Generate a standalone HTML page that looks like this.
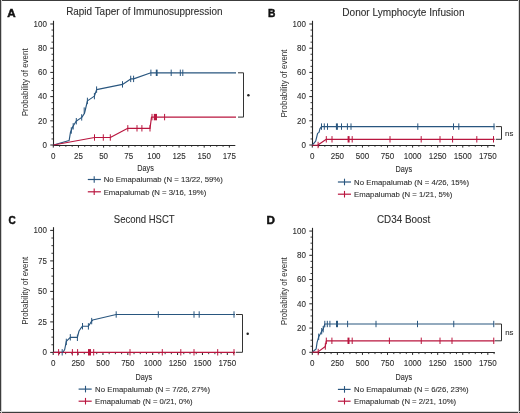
<!DOCTYPE html>
<html><head><meta charset="utf-8"><style>
html,body{margin:0;padding:0;background:#fff;width:520px;height:413px;overflow:hidden;font-family:"Liberation Sans",sans-serif;}
</style></head><body>
<svg width="520" height="413" viewBox="0 0 520 413" style="position:absolute;left:0;top:0;will-change:transform" font-family="Liberation Sans, sans-serif">
<rect x="0" y="0" width="520" height="413" fill="#ffffff"/>
<line x1="53.5" y1="20.8" x2="53.5" y2="146.0" stroke="#262626" stroke-width="1.1"/>
<line x1="53.0" y1="145.5" x2="235.3" y2="145.5" stroke="#262626" stroke-width="1.1"/>
<line x1="53.3" y1="145.0" x2="53.3" y2="147.6" stroke="#262626" stroke-width="1"/>
<line x1="78.44999999999999" y1="145.0" x2="78.44999999999999" y2="147.6" stroke="#262626" stroke-width="1"/>
<line x1="103.6" y1="145.0" x2="103.6" y2="147.6" stroke="#262626" stroke-width="1"/>
<line x1="128.75" y1="145.0" x2="128.75" y2="147.6" stroke="#262626" stroke-width="1"/>
<line x1="153.89999999999998" y1="145.0" x2="153.89999999999998" y2="147.6" stroke="#262626" stroke-width="1"/>
<line x1="179.05" y1="145.0" x2="179.05" y2="147.6" stroke="#262626" stroke-width="1"/>
<line x1="204.2" y1="145.0" x2="204.2" y2="147.6" stroke="#262626" stroke-width="1"/>
<line x1="229.35000000000002" y1="145.0" x2="229.35000000000002" y2="147.6" stroke="#262626" stroke-width="1"/>
<line x1="59.5875" y1="145.0" x2="59.5875" y2="146.8" stroke="#262626" stroke-width="0.9"/>
<line x1="65.875" y1="145.0" x2="65.875" y2="146.8" stroke="#262626" stroke-width="0.9"/>
<line x1="72.1625" y1="145.0" x2="72.1625" y2="146.8" stroke="#262626" stroke-width="0.9"/>
<line x1="84.7375" y1="145.0" x2="84.7375" y2="146.8" stroke="#262626" stroke-width="0.9"/>
<line x1="91.025" y1="145.0" x2="91.025" y2="146.8" stroke="#262626" stroke-width="0.9"/>
<line x1="97.3125" y1="145.0" x2="97.3125" y2="146.8" stroke="#262626" stroke-width="0.9"/>
<line x1="109.88749999999999" y1="145.0" x2="109.88749999999999" y2="146.8" stroke="#262626" stroke-width="0.9"/>
<line x1="116.175" y1="145.0" x2="116.175" y2="146.8" stroke="#262626" stroke-width="0.9"/>
<line x1="122.46249999999999" y1="145.0" x2="122.46249999999999" y2="146.8" stroke="#262626" stroke-width="0.9"/>
<line x1="135.0375" y1="145.0" x2="135.0375" y2="146.8" stroke="#262626" stroke-width="0.9"/>
<line x1="141.325" y1="145.0" x2="141.325" y2="146.8" stroke="#262626" stroke-width="0.9"/>
<line x1="147.6125" y1="145.0" x2="147.6125" y2="146.8" stroke="#262626" stroke-width="0.9"/>
<line x1="160.1875" y1="145.0" x2="160.1875" y2="146.8" stroke="#262626" stroke-width="0.9"/>
<line x1="166.475" y1="145.0" x2="166.475" y2="146.8" stroke="#262626" stroke-width="0.9"/>
<line x1="172.7625" y1="145.0" x2="172.7625" y2="146.8" stroke="#262626" stroke-width="0.9"/>
<line x1="185.33749999999998" y1="145.0" x2="185.33749999999998" y2="146.8" stroke="#262626" stroke-width="0.9"/>
<line x1="191.625" y1="145.0" x2="191.625" y2="146.8" stroke="#262626" stroke-width="0.9"/>
<line x1="197.91250000000002" y1="145.0" x2="197.91250000000002" y2="146.8" stroke="#262626" stroke-width="0.9"/>
<line x1="210.4875" y1="145.0" x2="210.4875" y2="146.8" stroke="#262626" stroke-width="0.9"/>
<line x1="216.77499999999998" y1="145.0" x2="216.77499999999998" y2="146.8" stroke="#262626" stroke-width="0.9"/>
<line x1="223.0625" y1="145.0" x2="223.0625" y2="146.8" stroke="#262626" stroke-width="0.9"/>
<line x1="50.3" y1="145.0" x2="53.3" y2="145.0" stroke="#262626" stroke-width="1"/>
<line x1="50.3" y1="120.8" x2="53.3" y2="120.8" stroke="#262626" stroke-width="1"/>
<line x1="50.3" y1="96.6" x2="53.3" y2="96.6" stroke="#262626" stroke-width="1"/>
<line x1="50.3" y1="72.4" x2="53.3" y2="72.4" stroke="#262626" stroke-width="1"/>
<line x1="50.3" y1="48.2" x2="53.3" y2="48.2" stroke="#262626" stroke-width="1"/>
<line x1="50.3" y1="24.0" x2="53.3" y2="24.0" stroke="#262626" stroke-width="1"/>
<line x1="51.5" y1="138.95" x2="53.3" y2="138.95" stroke="#262626" stroke-width="0.9"/>
<line x1="51.5" y1="132.9" x2="53.3" y2="132.9" stroke="#262626" stroke-width="0.9"/>
<line x1="51.5" y1="126.85" x2="53.3" y2="126.85" stroke="#262626" stroke-width="0.9"/>
<line x1="51.5" y1="114.75" x2="53.3" y2="114.75" stroke="#262626" stroke-width="0.9"/>
<line x1="51.5" y1="108.7" x2="53.3" y2="108.7" stroke="#262626" stroke-width="0.9"/>
<line x1="51.5" y1="102.65" x2="53.3" y2="102.65" stroke="#262626" stroke-width="0.9"/>
<line x1="51.5" y1="90.55000000000001" x2="53.3" y2="90.55000000000001" stroke="#262626" stroke-width="0.9"/>
<line x1="51.5" y1="84.5" x2="53.3" y2="84.5" stroke="#262626" stroke-width="0.9"/>
<line x1="51.5" y1="78.45" x2="53.3" y2="78.45" stroke="#262626" stroke-width="0.9"/>
<line x1="51.5" y1="66.35000000000001" x2="53.3" y2="66.35000000000001" stroke="#262626" stroke-width="0.9"/>
<line x1="51.5" y1="60.3" x2="53.3" y2="60.3" stroke="#262626" stroke-width="0.9"/>
<line x1="51.5" y1="54.25" x2="53.3" y2="54.25" stroke="#262626" stroke-width="0.9"/>
<line x1="51.5" y1="42.150000000000006" x2="53.3" y2="42.150000000000006" stroke="#262626" stroke-width="0.9"/>
<line x1="51.5" y1="36.10000000000001" x2="53.3" y2="36.10000000000001" stroke="#262626" stroke-width="0.9"/>
<line x1="51.5" y1="30.049999999999997" x2="53.3" y2="30.049999999999997" stroke="#262626" stroke-width="0.9"/>
<text x="53.3" y="158.6" font-size="8.9" text-anchor="middle" font-weight="normal" fill="#2e2e2e" stroke="#2e2e2e" stroke-width="0.1" textLength="4.45" lengthAdjust="spacingAndGlyphs" >0</text>
<text x="78.45" y="158.6" font-size="8.9" text-anchor="middle" font-weight="normal" fill="#2e2e2e" stroke="#2e2e2e" stroke-width="0.1" textLength="8.9" lengthAdjust="spacingAndGlyphs" >25</text>
<text x="103.6" y="158.6" font-size="8.9" text-anchor="middle" font-weight="normal" fill="#2e2e2e" stroke="#2e2e2e" stroke-width="0.1" textLength="8.9" lengthAdjust="spacingAndGlyphs" >50</text>
<text x="128.75" y="158.6" font-size="8.9" text-anchor="middle" font-weight="normal" fill="#2e2e2e" stroke="#2e2e2e" stroke-width="0.1" textLength="8.9" lengthAdjust="spacingAndGlyphs" >75</text>
<text x="153.9" y="158.6" font-size="8.9" text-anchor="middle" font-weight="normal" fill="#2e2e2e" stroke="#2e2e2e" stroke-width="0.1" textLength="13.35" lengthAdjust="spacingAndGlyphs" >100</text>
<text x="179.05" y="158.6" font-size="8.9" text-anchor="middle" font-weight="normal" fill="#2e2e2e" stroke="#2e2e2e" stroke-width="0.1" textLength="13.35" lengthAdjust="spacingAndGlyphs" >125</text>
<text x="204.2" y="158.6" font-size="8.9" text-anchor="middle" font-weight="normal" fill="#2e2e2e" stroke="#2e2e2e" stroke-width="0.1" textLength="13.35" lengthAdjust="spacingAndGlyphs" >150</text>
<text x="229.35" y="158.6" font-size="8.9" text-anchor="middle" font-weight="normal" fill="#2e2e2e" stroke="#2e2e2e" stroke-width="0.1" textLength="13.35" lengthAdjust="spacingAndGlyphs" >175</text>
<text x="46.9" y="147.7" font-size="8.9" text-anchor="end" font-weight="normal" fill="#2e2e2e" stroke="#2e2e2e" stroke-width="0.1" textLength="4.45" lengthAdjust="spacingAndGlyphs" >0</text>
<text x="46.9" y="123.5" font-size="8.9" text-anchor="end" font-weight="normal" fill="#2e2e2e" stroke="#2e2e2e" stroke-width="0.1" textLength="8.9" lengthAdjust="spacingAndGlyphs" >20</text>
<text x="46.9" y="99.3" font-size="8.9" text-anchor="end" font-weight="normal" fill="#2e2e2e" stroke="#2e2e2e" stroke-width="0.1" textLength="8.9" lengthAdjust="spacingAndGlyphs" >40</text>
<text x="46.9" y="75.1" font-size="8.9" text-anchor="end" font-weight="normal" fill="#2e2e2e" stroke="#2e2e2e" stroke-width="0.1" textLength="8.9" lengthAdjust="spacingAndGlyphs" >60</text>
<text x="46.9" y="50.9" font-size="8.9" text-anchor="end" font-weight="normal" fill="#2e2e2e" stroke="#2e2e2e" stroke-width="0.1" textLength="8.9" lengthAdjust="spacingAndGlyphs" >80</text>
<text x="46.9" y="26.7" font-size="8.9" text-anchor="end" font-weight="normal" fill="#2e2e2e" stroke="#2e2e2e" stroke-width="0.1" textLength="13.35" lengthAdjust="spacingAndGlyphs" >100</text>
<line x1="312.5" y1="20.8" x2="312.5" y2="146.0" stroke="#262626" stroke-width="1.1"/>
<line x1="312.0" y1="145.5" x2="494.8" y2="145.5" stroke="#262626" stroke-width="1.1"/>
<line x1="312.3" y1="145.0" x2="312.3" y2="147.6" stroke="#262626" stroke-width="1"/>
<line x1="337.375" y1="145.0" x2="337.375" y2="147.6" stroke="#262626" stroke-width="1"/>
<line x1="362.45" y1="145.0" x2="362.45" y2="147.6" stroke="#262626" stroke-width="1"/>
<line x1="387.525" y1="145.0" x2="387.525" y2="147.6" stroke="#262626" stroke-width="1"/>
<line x1="412.6" y1="145.0" x2="412.6" y2="147.6" stroke="#262626" stroke-width="1"/>
<line x1="437.675" y1="145.0" x2="437.675" y2="147.6" stroke="#262626" stroke-width="1"/>
<line x1="462.75" y1="145.0" x2="462.75" y2="147.6" stroke="#262626" stroke-width="1"/>
<line x1="487.82500000000005" y1="145.0" x2="487.82500000000005" y2="147.6" stroke="#262626" stroke-width="1"/>
<line x1="318.56875" y1="145.0" x2="318.56875" y2="146.8" stroke="#262626" stroke-width="0.9"/>
<line x1="324.83750000000003" y1="145.0" x2="324.83750000000003" y2="146.8" stroke="#262626" stroke-width="0.9"/>
<line x1="331.10625" y1="145.0" x2="331.10625" y2="146.8" stroke="#262626" stroke-width="0.9"/>
<line x1="343.64375" y1="145.0" x2="343.64375" y2="146.8" stroke="#262626" stroke-width="0.9"/>
<line x1="349.9125" y1="145.0" x2="349.9125" y2="146.8" stroke="#262626" stroke-width="0.9"/>
<line x1="356.18125000000003" y1="145.0" x2="356.18125000000003" y2="146.8" stroke="#262626" stroke-width="0.9"/>
<line x1="368.71875" y1="145.0" x2="368.71875" y2="146.8" stroke="#262626" stroke-width="0.9"/>
<line x1="374.9875" y1="145.0" x2="374.9875" y2="146.8" stroke="#262626" stroke-width="0.9"/>
<line x1="381.25625" y1="145.0" x2="381.25625" y2="146.8" stroke="#262626" stroke-width="0.9"/>
<line x1="393.79375000000005" y1="145.0" x2="393.79375000000005" y2="146.8" stroke="#262626" stroke-width="0.9"/>
<line x1="400.0625" y1="145.0" x2="400.0625" y2="146.8" stroke="#262626" stroke-width="0.9"/>
<line x1="406.33125" y1="145.0" x2="406.33125" y2="146.8" stroke="#262626" stroke-width="0.9"/>
<line x1="418.86875" y1="145.0" x2="418.86875" y2="146.8" stroke="#262626" stroke-width="0.9"/>
<line x1="425.13750000000005" y1="145.0" x2="425.13750000000005" y2="146.8" stroke="#262626" stroke-width="0.9"/>
<line x1="431.40625" y1="145.0" x2="431.40625" y2="146.8" stroke="#262626" stroke-width="0.9"/>
<line x1="443.94375" y1="145.0" x2="443.94375" y2="146.8" stroke="#262626" stroke-width="0.9"/>
<line x1="450.2125" y1="145.0" x2="450.2125" y2="146.8" stroke="#262626" stroke-width="0.9"/>
<line x1="456.48125000000005" y1="145.0" x2="456.48125000000005" y2="146.8" stroke="#262626" stroke-width="0.9"/>
<line x1="469.01875" y1="145.0" x2="469.01875" y2="146.8" stroke="#262626" stroke-width="0.9"/>
<line x1="475.2875" y1="145.0" x2="475.2875" y2="146.8" stroke="#262626" stroke-width="0.9"/>
<line x1="481.55625" y1="145.0" x2="481.55625" y2="146.8" stroke="#262626" stroke-width="0.9"/>
<line x1="494.09375" y1="145.0" x2="494.09375" y2="146.8" stroke="#262626" stroke-width="0.9"/>
<line x1="309.3" y1="145.0" x2="312.3" y2="145.0" stroke="#262626" stroke-width="1"/>
<line x1="309.3" y1="120.8" x2="312.3" y2="120.8" stroke="#262626" stroke-width="1"/>
<line x1="309.3" y1="96.6" x2="312.3" y2="96.6" stroke="#262626" stroke-width="1"/>
<line x1="309.3" y1="72.4" x2="312.3" y2="72.4" stroke="#262626" stroke-width="1"/>
<line x1="309.3" y1="48.2" x2="312.3" y2="48.2" stroke="#262626" stroke-width="1"/>
<line x1="309.3" y1="24.0" x2="312.3" y2="24.0" stroke="#262626" stroke-width="1"/>
<line x1="310.5" y1="138.95" x2="312.3" y2="138.95" stroke="#262626" stroke-width="0.9"/>
<line x1="310.5" y1="132.9" x2="312.3" y2="132.9" stroke="#262626" stroke-width="0.9"/>
<line x1="310.5" y1="126.85" x2="312.3" y2="126.85" stroke="#262626" stroke-width="0.9"/>
<line x1="310.5" y1="114.75" x2="312.3" y2="114.75" stroke="#262626" stroke-width="0.9"/>
<line x1="310.5" y1="108.7" x2="312.3" y2="108.7" stroke="#262626" stroke-width="0.9"/>
<line x1="310.5" y1="102.65" x2="312.3" y2="102.65" stroke="#262626" stroke-width="0.9"/>
<line x1="310.5" y1="90.55000000000001" x2="312.3" y2="90.55000000000001" stroke="#262626" stroke-width="0.9"/>
<line x1="310.5" y1="84.5" x2="312.3" y2="84.5" stroke="#262626" stroke-width="0.9"/>
<line x1="310.5" y1="78.45" x2="312.3" y2="78.45" stroke="#262626" stroke-width="0.9"/>
<line x1="310.5" y1="66.35000000000001" x2="312.3" y2="66.35000000000001" stroke="#262626" stroke-width="0.9"/>
<line x1="310.5" y1="60.3" x2="312.3" y2="60.3" stroke="#262626" stroke-width="0.9"/>
<line x1="310.5" y1="54.25" x2="312.3" y2="54.25" stroke="#262626" stroke-width="0.9"/>
<line x1="310.5" y1="42.150000000000006" x2="312.3" y2="42.150000000000006" stroke="#262626" stroke-width="0.9"/>
<line x1="310.5" y1="36.10000000000001" x2="312.3" y2="36.10000000000001" stroke="#262626" stroke-width="0.9"/>
<line x1="310.5" y1="30.049999999999997" x2="312.3" y2="30.049999999999997" stroke="#262626" stroke-width="0.9"/>
<text x="312.3" y="158.6" font-size="8.9" text-anchor="middle" font-weight="normal" fill="#2e2e2e" stroke="#2e2e2e" stroke-width="0.1" textLength="4.45" lengthAdjust="spacingAndGlyphs" >0</text>
<text x="337.38" y="158.6" font-size="8.9" text-anchor="middle" font-weight="normal" fill="#2e2e2e" stroke="#2e2e2e" stroke-width="0.1" textLength="13.35" lengthAdjust="spacingAndGlyphs" >250</text>
<text x="362.45" y="158.6" font-size="8.9" text-anchor="middle" font-weight="normal" fill="#2e2e2e" stroke="#2e2e2e" stroke-width="0.1" textLength="13.35" lengthAdjust="spacingAndGlyphs" >500</text>
<text x="387.52" y="158.6" font-size="8.9" text-anchor="middle" font-weight="normal" fill="#2e2e2e" stroke="#2e2e2e" stroke-width="0.1" textLength="13.35" lengthAdjust="spacingAndGlyphs" >750</text>
<text x="412.6" y="158.6" font-size="8.9" text-anchor="middle" font-weight="normal" fill="#2e2e2e" stroke="#2e2e2e" stroke-width="0.1" textLength="17.8" lengthAdjust="spacingAndGlyphs" >1000</text>
<text x="437.68" y="158.6" font-size="8.9" text-anchor="middle" font-weight="normal" fill="#2e2e2e" stroke="#2e2e2e" stroke-width="0.1" textLength="17.8" lengthAdjust="spacingAndGlyphs" >1250</text>
<text x="462.75" y="158.6" font-size="8.9" text-anchor="middle" font-weight="normal" fill="#2e2e2e" stroke="#2e2e2e" stroke-width="0.1" textLength="17.8" lengthAdjust="spacingAndGlyphs" >1500</text>
<text x="487.83" y="158.6" font-size="8.9" text-anchor="middle" font-weight="normal" fill="#2e2e2e" stroke="#2e2e2e" stroke-width="0.1" textLength="17.8" lengthAdjust="spacingAndGlyphs" >1750</text>
<text x="305.9" y="147.7" font-size="8.9" text-anchor="end" font-weight="normal" fill="#2e2e2e" stroke="#2e2e2e" stroke-width="0.1" textLength="4.45" lengthAdjust="spacingAndGlyphs" >0</text>
<text x="305.9" y="123.5" font-size="8.9" text-anchor="end" font-weight="normal" fill="#2e2e2e" stroke="#2e2e2e" stroke-width="0.1" textLength="8.9" lengthAdjust="spacingAndGlyphs" >20</text>
<text x="305.9" y="99.3" font-size="8.9" text-anchor="end" font-weight="normal" fill="#2e2e2e" stroke="#2e2e2e" stroke-width="0.1" textLength="8.9" lengthAdjust="spacingAndGlyphs" >40</text>
<text x="305.9" y="75.1" font-size="8.9" text-anchor="end" font-weight="normal" fill="#2e2e2e" stroke="#2e2e2e" stroke-width="0.1" textLength="8.9" lengthAdjust="spacingAndGlyphs" >60</text>
<text x="305.9" y="50.9" font-size="8.9" text-anchor="end" font-weight="normal" fill="#2e2e2e" stroke="#2e2e2e" stroke-width="0.1" textLength="8.9" lengthAdjust="spacingAndGlyphs" >80</text>
<text x="305.9" y="26.7" font-size="8.9" text-anchor="end" font-weight="normal" fill="#2e2e2e" stroke="#2e2e2e" stroke-width="0.1" textLength="13.35" lengthAdjust="spacingAndGlyphs" >100</text>
<line x1="53.5" y1="227.2" x2="53.5" y2="353.0" stroke="#262626" stroke-width="1.1"/>
<line x1="53.0" y1="352.5" x2="235.2" y2="352.5" stroke="#262626" stroke-width="1.1"/>
<line x1="53.2" y1="352.4" x2="53.2" y2="355.0" stroke="#262626" stroke-width="1"/>
<line x1="78.075" y1="352.4" x2="78.075" y2="355.0" stroke="#262626" stroke-width="1"/>
<line x1="102.95" y1="352.4" x2="102.95" y2="355.0" stroke="#262626" stroke-width="1"/>
<line x1="127.825" y1="352.4" x2="127.825" y2="355.0" stroke="#262626" stroke-width="1"/>
<line x1="152.7" y1="352.4" x2="152.7" y2="355.0" stroke="#262626" stroke-width="1"/>
<line x1="177.575" y1="352.4" x2="177.575" y2="355.0" stroke="#262626" stroke-width="1"/>
<line x1="202.45" y1="352.4" x2="202.45" y2="355.0" stroke="#262626" stroke-width="1"/>
<line x1="227.325" y1="352.4" x2="227.325" y2="355.0" stroke="#262626" stroke-width="1"/>
<line x1="59.41875" y1="352.4" x2="59.41875" y2="354.2" stroke="#262626" stroke-width="0.9"/>
<line x1="65.6375" y1="352.4" x2="65.6375" y2="354.2" stroke="#262626" stroke-width="0.9"/>
<line x1="71.85625" y1="352.4" x2="71.85625" y2="354.2" stroke="#262626" stroke-width="0.9"/>
<line x1="84.29375" y1="352.4" x2="84.29375" y2="354.2" stroke="#262626" stroke-width="0.9"/>
<line x1="90.5125" y1="352.4" x2="90.5125" y2="354.2" stroke="#262626" stroke-width="0.9"/>
<line x1="96.73125" y1="352.4" x2="96.73125" y2="354.2" stroke="#262626" stroke-width="0.9"/>
<line x1="109.16875" y1="352.4" x2="109.16875" y2="354.2" stroke="#262626" stroke-width="0.9"/>
<line x1="115.3875" y1="352.4" x2="115.3875" y2="354.2" stroke="#262626" stroke-width="0.9"/>
<line x1="121.60625" y1="352.4" x2="121.60625" y2="354.2" stroke="#262626" stroke-width="0.9"/>
<line x1="134.04375" y1="352.4" x2="134.04375" y2="354.2" stroke="#262626" stroke-width="0.9"/>
<line x1="140.2625" y1="352.4" x2="140.2625" y2="354.2" stroke="#262626" stroke-width="0.9"/>
<line x1="146.48125" y1="352.4" x2="146.48125" y2="354.2" stroke="#262626" stroke-width="0.9"/>
<line x1="158.91875" y1="352.4" x2="158.91875" y2="354.2" stroke="#262626" stroke-width="0.9"/>
<line x1="165.1375" y1="352.4" x2="165.1375" y2="354.2" stroke="#262626" stroke-width="0.9"/>
<line x1="171.35625" y1="352.4" x2="171.35625" y2="354.2" stroke="#262626" stroke-width="0.9"/>
<line x1="183.79375" y1="352.4" x2="183.79375" y2="354.2" stroke="#262626" stroke-width="0.9"/>
<line x1="190.0125" y1="352.4" x2="190.0125" y2="354.2" stroke="#262626" stroke-width="0.9"/>
<line x1="196.23125" y1="352.4" x2="196.23125" y2="354.2" stroke="#262626" stroke-width="0.9"/>
<line x1="208.66875" y1="352.4" x2="208.66875" y2="354.2" stroke="#262626" stroke-width="0.9"/>
<line x1="214.8875" y1="352.4" x2="214.8875" y2="354.2" stroke="#262626" stroke-width="0.9"/>
<line x1="221.10625" y1="352.4" x2="221.10625" y2="354.2" stroke="#262626" stroke-width="0.9"/>
<line x1="233.54375" y1="352.4" x2="233.54375" y2="354.2" stroke="#262626" stroke-width="0.9"/>
<line x1="50.2" y1="352.4" x2="53.2" y2="352.4" stroke="#262626" stroke-width="1"/>
<line x1="50.2" y1="321.9" x2="53.2" y2="321.9" stroke="#262626" stroke-width="1"/>
<line x1="50.2" y1="291.4" x2="53.2" y2="291.4" stroke="#262626" stroke-width="1"/>
<line x1="50.2" y1="260.9" x2="53.2" y2="260.9" stroke="#262626" stroke-width="1"/>
<line x1="50.2" y1="230.39999999999998" x2="53.2" y2="230.39999999999998" stroke="#262626" stroke-width="1"/>
<line x1="51.400000000000006" y1="344.775" x2="53.2" y2="344.775" stroke="#262626" stroke-width="0.9"/>
<line x1="51.400000000000006" y1="337.15" x2="53.2" y2="337.15" stroke="#262626" stroke-width="0.9"/>
<line x1="51.400000000000006" y1="329.525" x2="53.2" y2="329.525" stroke="#262626" stroke-width="0.9"/>
<line x1="51.400000000000006" y1="314.275" x2="53.2" y2="314.275" stroke="#262626" stroke-width="0.9"/>
<line x1="51.400000000000006" y1="306.65" x2="53.2" y2="306.65" stroke="#262626" stroke-width="0.9"/>
<line x1="51.400000000000006" y1="299.025" x2="53.2" y2="299.025" stroke="#262626" stroke-width="0.9"/>
<line x1="51.400000000000006" y1="283.775" x2="53.2" y2="283.775" stroke="#262626" stroke-width="0.9"/>
<line x1="51.400000000000006" y1="276.15" x2="53.2" y2="276.15" stroke="#262626" stroke-width="0.9"/>
<line x1="51.400000000000006" y1="268.525" x2="53.2" y2="268.525" stroke="#262626" stroke-width="0.9"/>
<line x1="51.400000000000006" y1="253.27499999999998" x2="53.2" y2="253.27499999999998" stroke="#262626" stroke-width="0.9"/>
<line x1="51.400000000000006" y1="245.64999999999998" x2="53.2" y2="245.64999999999998" stroke="#262626" stroke-width="0.9"/>
<line x1="51.400000000000006" y1="238.02499999999998" x2="53.2" y2="238.02499999999998" stroke="#262626" stroke-width="0.9"/>
<text x="53.2" y="365.5" font-size="8.9" text-anchor="middle" font-weight="normal" fill="#2e2e2e" stroke="#2e2e2e" stroke-width="0.1" textLength="4.45" lengthAdjust="spacingAndGlyphs" >0</text>
<text x="78.08" y="365.5" font-size="8.9" text-anchor="middle" font-weight="normal" fill="#2e2e2e" stroke="#2e2e2e" stroke-width="0.1" textLength="13.35" lengthAdjust="spacingAndGlyphs" >250</text>
<text x="102.95" y="365.5" font-size="8.9" text-anchor="middle" font-weight="normal" fill="#2e2e2e" stroke="#2e2e2e" stroke-width="0.1" textLength="13.35" lengthAdjust="spacingAndGlyphs" >500</text>
<text x="127.83" y="365.5" font-size="8.9" text-anchor="middle" font-weight="normal" fill="#2e2e2e" stroke="#2e2e2e" stroke-width="0.1" textLength="13.35" lengthAdjust="spacingAndGlyphs" >750</text>
<text x="152.7" y="365.5" font-size="8.9" text-anchor="middle" font-weight="normal" fill="#2e2e2e" stroke="#2e2e2e" stroke-width="0.1" textLength="17.8" lengthAdjust="spacingAndGlyphs" >1000</text>
<text x="177.57" y="365.5" font-size="8.9" text-anchor="middle" font-weight="normal" fill="#2e2e2e" stroke="#2e2e2e" stroke-width="0.1" textLength="17.8" lengthAdjust="spacingAndGlyphs" >1250</text>
<text x="202.45" y="365.5" font-size="8.9" text-anchor="middle" font-weight="normal" fill="#2e2e2e" stroke="#2e2e2e" stroke-width="0.1" textLength="17.8" lengthAdjust="spacingAndGlyphs" >1500</text>
<text x="227.32" y="365.5" font-size="8.9" text-anchor="middle" font-weight="normal" fill="#2e2e2e" stroke="#2e2e2e" stroke-width="0.1" textLength="17.8" lengthAdjust="spacingAndGlyphs" >1750</text>
<text x="46.9" y="355.1" font-size="8.9" text-anchor="end" font-weight="normal" fill="#2e2e2e" stroke="#2e2e2e" stroke-width="0.1" textLength="4.45" lengthAdjust="spacingAndGlyphs" >0</text>
<text x="46.9" y="324.6" font-size="8.9" text-anchor="end" font-weight="normal" fill="#2e2e2e" stroke="#2e2e2e" stroke-width="0.1" textLength="8.9" lengthAdjust="spacingAndGlyphs" >25</text>
<text x="46.9" y="294.1" font-size="8.9" text-anchor="end" font-weight="normal" fill="#2e2e2e" stroke="#2e2e2e" stroke-width="0.1" textLength="8.9" lengthAdjust="spacingAndGlyphs" >50</text>
<text x="46.9" y="263.6" font-size="8.9" text-anchor="end" font-weight="normal" fill="#2e2e2e" stroke="#2e2e2e" stroke-width="0.1" textLength="8.9" lengthAdjust="spacingAndGlyphs" >75</text>
<text x="46.9" y="233.1" font-size="8.9" text-anchor="end" font-weight="normal" fill="#2e2e2e" stroke="#2e2e2e" stroke-width="0.1" textLength="13.35" lengthAdjust="spacingAndGlyphs" >100</text>
<line x1="312.5" y1="227.85000000000002" x2="312.5" y2="353.0" stroke="#262626" stroke-width="1.1"/>
<line x1="312.0" y1="352.5" x2="494.8" y2="352.5" stroke="#262626" stroke-width="1.1"/>
<line x1="312.3" y1="352.3" x2="312.3" y2="354.90000000000003" stroke="#262626" stroke-width="1"/>
<line x1="337.375" y1="352.3" x2="337.375" y2="354.90000000000003" stroke="#262626" stroke-width="1"/>
<line x1="362.45" y1="352.3" x2="362.45" y2="354.90000000000003" stroke="#262626" stroke-width="1"/>
<line x1="387.525" y1="352.3" x2="387.525" y2="354.90000000000003" stroke="#262626" stroke-width="1"/>
<line x1="412.6" y1="352.3" x2="412.6" y2="354.90000000000003" stroke="#262626" stroke-width="1"/>
<line x1="437.675" y1="352.3" x2="437.675" y2="354.90000000000003" stroke="#262626" stroke-width="1"/>
<line x1="462.75" y1="352.3" x2="462.75" y2="354.90000000000003" stroke="#262626" stroke-width="1"/>
<line x1="487.82500000000005" y1="352.3" x2="487.82500000000005" y2="354.90000000000003" stroke="#262626" stroke-width="1"/>
<line x1="318.56875" y1="352.3" x2="318.56875" y2="354.1" stroke="#262626" stroke-width="0.9"/>
<line x1="324.83750000000003" y1="352.3" x2="324.83750000000003" y2="354.1" stroke="#262626" stroke-width="0.9"/>
<line x1="331.10625" y1="352.3" x2="331.10625" y2="354.1" stroke="#262626" stroke-width="0.9"/>
<line x1="343.64375" y1="352.3" x2="343.64375" y2="354.1" stroke="#262626" stroke-width="0.9"/>
<line x1="349.9125" y1="352.3" x2="349.9125" y2="354.1" stroke="#262626" stroke-width="0.9"/>
<line x1="356.18125000000003" y1="352.3" x2="356.18125000000003" y2="354.1" stroke="#262626" stroke-width="0.9"/>
<line x1="368.71875" y1="352.3" x2="368.71875" y2="354.1" stroke="#262626" stroke-width="0.9"/>
<line x1="374.9875" y1="352.3" x2="374.9875" y2="354.1" stroke="#262626" stroke-width="0.9"/>
<line x1="381.25625" y1="352.3" x2="381.25625" y2="354.1" stroke="#262626" stroke-width="0.9"/>
<line x1="393.79375000000005" y1="352.3" x2="393.79375000000005" y2="354.1" stroke="#262626" stroke-width="0.9"/>
<line x1="400.0625" y1="352.3" x2="400.0625" y2="354.1" stroke="#262626" stroke-width="0.9"/>
<line x1="406.33125" y1="352.3" x2="406.33125" y2="354.1" stroke="#262626" stroke-width="0.9"/>
<line x1="418.86875" y1="352.3" x2="418.86875" y2="354.1" stroke="#262626" stroke-width="0.9"/>
<line x1="425.13750000000005" y1="352.3" x2="425.13750000000005" y2="354.1" stroke="#262626" stroke-width="0.9"/>
<line x1="431.40625" y1="352.3" x2="431.40625" y2="354.1" stroke="#262626" stroke-width="0.9"/>
<line x1="443.94375" y1="352.3" x2="443.94375" y2="354.1" stroke="#262626" stroke-width="0.9"/>
<line x1="450.2125" y1="352.3" x2="450.2125" y2="354.1" stroke="#262626" stroke-width="0.9"/>
<line x1="456.48125000000005" y1="352.3" x2="456.48125000000005" y2="354.1" stroke="#262626" stroke-width="0.9"/>
<line x1="469.01875" y1="352.3" x2="469.01875" y2="354.1" stroke="#262626" stroke-width="0.9"/>
<line x1="475.2875" y1="352.3" x2="475.2875" y2="354.1" stroke="#262626" stroke-width="0.9"/>
<line x1="481.55625" y1="352.3" x2="481.55625" y2="354.1" stroke="#262626" stroke-width="0.9"/>
<line x1="494.09375" y1="352.3" x2="494.09375" y2="354.1" stroke="#262626" stroke-width="0.9"/>
<line x1="309.3" y1="352.3" x2="312.3" y2="352.3" stroke="#262626" stroke-width="1"/>
<line x1="309.3" y1="328.05" x2="312.3" y2="328.05" stroke="#262626" stroke-width="1"/>
<line x1="309.3" y1="303.8" x2="312.3" y2="303.8" stroke="#262626" stroke-width="1"/>
<line x1="309.3" y1="279.55" x2="312.3" y2="279.55" stroke="#262626" stroke-width="1"/>
<line x1="309.3" y1="255.3" x2="312.3" y2="255.3" stroke="#262626" stroke-width="1"/>
<line x1="309.3" y1="231.05" x2="312.3" y2="231.05" stroke="#262626" stroke-width="1"/>
<line x1="310.5" y1="346.2375" x2="312.3" y2="346.2375" stroke="#262626" stroke-width="0.9"/>
<line x1="310.5" y1="340.175" x2="312.3" y2="340.175" stroke="#262626" stroke-width="0.9"/>
<line x1="310.5" y1="334.1125" x2="312.3" y2="334.1125" stroke="#262626" stroke-width="0.9"/>
<line x1="310.5" y1="321.9875" x2="312.3" y2="321.9875" stroke="#262626" stroke-width="0.9"/>
<line x1="310.5" y1="315.925" x2="312.3" y2="315.925" stroke="#262626" stroke-width="0.9"/>
<line x1="310.5" y1="309.8625" x2="312.3" y2="309.8625" stroke="#262626" stroke-width="0.9"/>
<line x1="310.5" y1="297.7375" x2="312.3" y2="297.7375" stroke="#262626" stroke-width="0.9"/>
<line x1="310.5" y1="291.675" x2="312.3" y2="291.675" stroke="#262626" stroke-width="0.9"/>
<line x1="310.5" y1="285.6125" x2="312.3" y2="285.6125" stroke="#262626" stroke-width="0.9"/>
<line x1="310.5" y1="273.4875" x2="312.3" y2="273.4875" stroke="#262626" stroke-width="0.9"/>
<line x1="310.5" y1="267.425" x2="312.3" y2="267.425" stroke="#262626" stroke-width="0.9"/>
<line x1="310.5" y1="261.3625" x2="312.3" y2="261.3625" stroke="#262626" stroke-width="0.9"/>
<line x1="310.5" y1="249.2375" x2="312.3" y2="249.2375" stroke="#262626" stroke-width="0.9"/>
<line x1="310.5" y1="243.175" x2="312.3" y2="243.175" stroke="#262626" stroke-width="0.9"/>
<line x1="310.5" y1="237.1125" x2="312.3" y2="237.1125" stroke="#262626" stroke-width="0.9"/>
<text x="312.3" y="365.5" font-size="8.9" text-anchor="middle" font-weight="normal" fill="#2e2e2e" stroke="#2e2e2e" stroke-width="0.1" textLength="4.45" lengthAdjust="spacingAndGlyphs" >0</text>
<text x="337.38" y="365.5" font-size="8.9" text-anchor="middle" font-weight="normal" fill="#2e2e2e" stroke="#2e2e2e" stroke-width="0.1" textLength="13.35" lengthAdjust="spacingAndGlyphs" >250</text>
<text x="362.45" y="365.5" font-size="8.9" text-anchor="middle" font-weight="normal" fill="#2e2e2e" stroke="#2e2e2e" stroke-width="0.1" textLength="13.35" lengthAdjust="spacingAndGlyphs" >500</text>
<text x="387.52" y="365.5" font-size="8.9" text-anchor="middle" font-weight="normal" fill="#2e2e2e" stroke="#2e2e2e" stroke-width="0.1" textLength="13.35" lengthAdjust="spacingAndGlyphs" >750</text>
<text x="412.6" y="365.5" font-size="8.9" text-anchor="middle" font-weight="normal" fill="#2e2e2e" stroke="#2e2e2e" stroke-width="0.1" textLength="17.8" lengthAdjust="spacingAndGlyphs" >1000</text>
<text x="437.68" y="365.5" font-size="8.9" text-anchor="middle" font-weight="normal" fill="#2e2e2e" stroke="#2e2e2e" stroke-width="0.1" textLength="17.8" lengthAdjust="spacingAndGlyphs" >1250</text>
<text x="462.75" y="365.5" font-size="8.9" text-anchor="middle" font-weight="normal" fill="#2e2e2e" stroke="#2e2e2e" stroke-width="0.1" textLength="17.8" lengthAdjust="spacingAndGlyphs" >1500</text>
<text x="487.83" y="365.5" font-size="8.9" text-anchor="middle" font-weight="normal" fill="#2e2e2e" stroke="#2e2e2e" stroke-width="0.1" textLength="17.8" lengthAdjust="spacingAndGlyphs" >1750</text>
<text x="305.9" y="355.0" font-size="8.9" text-anchor="end" font-weight="normal" fill="#2e2e2e" stroke="#2e2e2e" stroke-width="0.1" textLength="4.45" lengthAdjust="spacingAndGlyphs" >0</text>
<text x="305.9" y="330.75" font-size="8.9" text-anchor="end" font-weight="normal" fill="#2e2e2e" stroke="#2e2e2e" stroke-width="0.1" textLength="8.9" lengthAdjust="spacingAndGlyphs" >20</text>
<text x="305.9" y="306.5" font-size="8.9" text-anchor="end" font-weight="normal" fill="#2e2e2e" stroke="#2e2e2e" stroke-width="0.1" textLength="8.9" lengthAdjust="spacingAndGlyphs" >40</text>
<text x="305.9" y="282.25" font-size="8.9" text-anchor="end" font-weight="normal" fill="#2e2e2e" stroke="#2e2e2e" stroke-width="0.1" textLength="8.9" lengthAdjust="spacingAndGlyphs" >60</text>
<text x="305.9" y="258.0" font-size="8.9" text-anchor="end" font-weight="normal" fill="#2e2e2e" stroke="#2e2e2e" stroke-width="0.1" textLength="8.9" lengthAdjust="spacingAndGlyphs" >80</text>
<text x="305.9" y="233.75" font-size="8.9" text-anchor="end" font-weight="normal" fill="#2e2e2e" stroke="#2e2e2e" stroke-width="0.1" textLength="13.35" lengthAdjust="spacingAndGlyphs" >100</text>
<text x="7.2" y="17.0" font-size="11.8" text-anchor="start" font-weight="bold" fill="#111" stroke="#111" stroke-width="0.5" textLength="8.4" lengthAdjust="spacingAndGlyphs" >A</text>
<text x="268.0" y="16.8" font-size="11.8" text-anchor="start" font-weight="bold" fill="#111" stroke="#111" stroke-width="0.5" textLength="7.4" lengthAdjust="spacingAndGlyphs" >B</text>
<text x="8.6" y="223.8" font-size="11.8" text-anchor="start" font-weight="bold" fill="#111" stroke="#111" stroke-width="0.5" textLength="7.2" lengthAdjust="spacingAndGlyphs" >C</text>
<text x="266.4" y="223.8" font-size="11.8" text-anchor="start" font-weight="bold" fill="#111" stroke="#111" stroke-width="0.5" textLength="8.4" lengthAdjust="spacingAndGlyphs" >D</text>
<text x="66.2" y="15.4" font-size="10.5" text-anchor="start" font-weight="normal" fill="#2e2e2e" stroke="#2e2e2e" stroke-width="0.1" textLength="156.3" lengthAdjust="spacingAndGlyphs" >Rapid Taper of Immunosuppression</text>
<text x="342.3" y="15.5" font-size="10.5" text-anchor="start" font-weight="normal" fill="#2e2e2e" stroke="#2e2e2e" stroke-width="0.1" textLength="122.2" lengthAdjust="spacingAndGlyphs" >Donor Lymphocyte Infusion</text>
<text x="113.8" y="223.2" font-size="10.5" text-anchor="start" font-weight="normal" fill="#2e2e2e" stroke="#2e2e2e" stroke-width="0.1" textLength="60.8" lengthAdjust="spacingAndGlyphs" >Second HSCT</text>
<text x="377.0" y="223.2" font-size="10.5" text-anchor="start" font-weight="normal" fill="#2e2e2e" stroke="#2e2e2e" stroke-width="0.1" textLength="53.2" lengthAdjust="spacingAndGlyphs" >CD34 Boost</text>
<text x="145.6" y="170.7" font-size="9.3" text-anchor="middle" font-weight="normal" fill="#2e2e2e" stroke="#2e2e2e" stroke-width="0.1" textLength="16.6" lengthAdjust="spacingAndGlyphs" >Days</text>
<text x="403.8" y="171.5" font-size="9.3" text-anchor="middle" font-weight="normal" fill="#2e2e2e" stroke="#2e2e2e" stroke-width="0.1" textLength="16.6" lengthAdjust="spacingAndGlyphs" >Days</text>
<text x="143.8" y="379.5" font-size="9.3" text-anchor="middle" font-weight="normal" fill="#2e2e2e" stroke="#2e2e2e" stroke-width="0.1" textLength="16.6" lengthAdjust="spacingAndGlyphs" >Days</text>
<text x="403.8" y="379.5" font-size="9.3" text-anchor="middle" font-weight="normal" fill="#2e2e2e" stroke="#2e2e2e" stroke-width="0.1" textLength="16.6" lengthAdjust="spacingAndGlyphs" >Days</text>
<text x="0" y="0" font-size="9" text-anchor="middle" fill="#2e2e2e" textLength="68" lengthAdjust="spacingAndGlyphs" transform="translate(27.9,82.3) rotate(-90)">Probability of event</text>
<text x="0" y="0" font-size="9" text-anchor="middle" fill="#2e2e2e" textLength="68" lengthAdjust="spacingAndGlyphs" transform="translate(286.9,83.5) rotate(-90)">Probability of event</text>
<text x="0" y="0" font-size="9" text-anchor="middle" fill="#2e2e2e" textLength="68" lengthAdjust="spacingAndGlyphs" transform="translate(27.9,290.8) rotate(-90)">Probability of event</text>
<text x="0" y="0" font-size="9" text-anchor="middle" fill="#2e2e2e" textLength="68" lengthAdjust="spacingAndGlyphs" transform="translate(286.9,291.2) rotate(-90)">Probability of event</text>
<line x1="87.8" y1="179.5" x2="100.9" y2="179.5" stroke="#29567f" stroke-width="1.2"/>
<line x1="94.2" y1="176.2" x2="94.2" y2="182.8" stroke="#29567f" stroke-width="1.1"/>
<text x="103.7" y="182.4" font-size="7.7" text-anchor="start" font-weight="normal" fill="#2e2e2e" stroke="#2e2e2e" stroke-width="0.1" textLength="119.2" lengthAdjust="spacingAndGlyphs" >No Emapalumab (N = 13/22, 59%)</text>
<line x1="87.8" y1="191.8" x2="100.9" y2="191.8" stroke="#b9163f" stroke-width="1.2"/>
<line x1="94.2" y1="188.5" x2="94.2" y2="195.10000000000002" stroke="#b9163f" stroke-width="1.1"/>
<text x="103.7" y="194.7" font-size="7.7" text-anchor="start" font-weight="normal" fill="#2e2e2e" stroke="#2e2e2e" stroke-width="0.1" textLength="102.6" lengthAdjust="spacingAndGlyphs" >Emapalumab (N = 3/16, 19%)</text>
<line x1="337.9" y1="182.0" x2="351.0" y2="182.0" stroke="#29567f" stroke-width="1.2"/>
<line x1="344.5" y1="178.7" x2="344.5" y2="185.3" stroke="#29567f" stroke-width="1.1"/>
<text x="354.1" y="184.9" font-size="7.7" text-anchor="start" font-weight="normal" fill="#2e2e2e" stroke="#2e2e2e" stroke-width="0.1" textLength="115.0" lengthAdjust="spacingAndGlyphs" >No Emapalumab (N = 4/26, 15%)</text>
<line x1="337.9" y1="194.2" x2="351.0" y2="194.2" stroke="#b9163f" stroke-width="1.2"/>
<line x1="344.5" y1="190.89999999999998" x2="344.5" y2="197.5" stroke="#b9163f" stroke-width="1.1"/>
<text x="354.1" y="197.1" font-size="7.7" text-anchor="start" font-weight="normal" fill="#2e2e2e" stroke="#2e2e2e" stroke-width="0.1" textLength="98.2" lengthAdjust="spacingAndGlyphs" >Emapalumab (N = 1/21, 5%)</text>
<line x1="78.6" y1="389.1" x2="91.7" y2="389.1" stroke="#29567f" stroke-width="1.2"/>
<line x1="85.5" y1="385.8" x2="85.5" y2="392.40000000000003" stroke="#29567f" stroke-width="1.1"/>
<text x="95.1" y="392.0" font-size="7.7" text-anchor="start" font-weight="normal" fill="#2e2e2e" stroke="#2e2e2e" stroke-width="0.1" textLength="114.9" lengthAdjust="spacingAndGlyphs" >No Emapalumab (N = 7/26, 27%)</text>
<line x1="78.6" y1="401.2" x2="91.7" y2="401.2" stroke="#b9163f" stroke-width="1.2"/>
<line x1="85.5" y1="397.9" x2="85.5" y2="404.5" stroke="#b9163f" stroke-width="1.1"/>
<text x="95.1" y="404.1" font-size="7.7" text-anchor="start" font-weight="normal" fill="#2e2e2e" stroke="#2e2e2e" stroke-width="0.1" textLength="97.5" lengthAdjust="spacingAndGlyphs" >Emapalumab (N = 0/21, 0%)</text>
<line x1="337.9" y1="389.4" x2="350.6" y2="389.4" stroke="#29567f" stroke-width="1.2"/>
<line x1="344.5" y1="386.09999999999997" x2="344.5" y2="392.7" stroke="#29567f" stroke-width="1.1"/>
<text x="354.1" y="392.3" font-size="7.7" text-anchor="start" font-weight="normal" fill="#2e2e2e" stroke="#2e2e2e" stroke-width="0.1" textLength="114.6" lengthAdjust="spacingAndGlyphs" >No Emapalumab (N = 6/26, 23%)</text>
<line x1="337.9" y1="401.2" x2="350.6" y2="401.2" stroke="#b9163f" stroke-width="1.2"/>
<line x1="344.5" y1="397.9" x2="344.5" y2="404.5" stroke="#b9163f" stroke-width="1.1"/>
<text x="354.1" y="404.1" font-size="7.7" text-anchor="start" font-weight="normal" fill="#2e2e2e" stroke="#2e2e2e" stroke-width="0.1" textLength="102.1" lengthAdjust="spacingAndGlyphs" >Emapalumab (N = 2/21, 10%)</text>
<polyline points="53.5,145 69.15,140.5 70.5,132.2 72.6,127 76.1,121.3 81.8,117.4 84.4,113.5 85.3,110 87.4,100.9 94.4,96.1 96.6,89.6 122.5,84.4 130.7,78.9 133.6,78.9 150.9,72.8 236,72.8" fill="none" stroke="#29567f" stroke-width="1.15" stroke-linejoin="round"/>
<line x1="71.3" y1="127.3" x2="71.3" y2="133.7" stroke="#29567f" stroke-width="1.0"/>
<line x1="73.2" y1="123.1" x2="73.2" y2="129.5" stroke="#29567f" stroke-width="1.0"/>
<line x1="76.3" y1="118.0" x2="76.3" y2="124.4" stroke="#29567f" stroke-width="1.0"/>
<line x1="81.7" y1="114.2" x2="81.7" y2="120.60000000000001" stroke="#29567f" stroke-width="1.0"/>
<line x1="84.2" y1="107.39999999999999" x2="84.2" y2="113.8" stroke="#29567f" stroke-width="1.0"/>
<line x1="87.4" y1="97.7" x2="87.4" y2="104.10000000000001" stroke="#29567f" stroke-width="1.0"/>
<line x1="94.4" y1="92.89999999999999" x2="94.4" y2="99.3" stroke="#29567f" stroke-width="1.0"/>
<line x1="96.6" y1="86.39999999999999" x2="96.6" y2="92.8" stroke="#29567f" stroke-width="1.0"/>
<line x1="122.5" y1="81.2" x2="122.5" y2="87.60000000000001" stroke="#29567f" stroke-width="1.0"/>
<line x1="130.7" y1="75.7" x2="130.7" y2="82.10000000000001" stroke="#29567f" stroke-width="1.0"/>
<line x1="133.6" y1="75.7" x2="133.6" y2="82.10000000000001" stroke="#29567f" stroke-width="1.0"/>
<line x1="150.9" y1="69.6" x2="150.9" y2="76.0" stroke="#29567f" stroke-width="1.0"/>
<line x1="171.2" y1="69.6" x2="171.2" y2="76.0" stroke="#29567f" stroke-width="1.0"/>
<line x1="180.3" y1="69.6" x2="180.3" y2="76.0" stroke="#29567f" stroke-width="1.0"/>
<line x1="182.8" y1="69.6" x2="182.8" y2="76.0" stroke="#29567f" stroke-width="1.0"/>
<rect x="155.8" y="69.6" width="1.799999999999983" height="6.4" fill="#29567f"/>
<polyline points="53.5,145 94.5,137.5 110.3,137.5 127.8,128.3 150,128.3 151.5,117.1 236,117.1" fill="none" stroke="#b9163f" stroke-width="1.15" stroke-linejoin="round"/>
<line x1="94.5" y1="134.3" x2="94.5" y2="140.7" stroke="#b9163f" stroke-width="1.0"/>
<line x1="103.3" y1="134.3" x2="103.3" y2="140.7" stroke="#b9163f" stroke-width="1.0"/>
<line x1="110.3" y1="134.3" x2="110.3" y2="140.7" stroke="#b9163f" stroke-width="1.0"/>
<line x1="127.8" y1="125.10000000000001" x2="127.8" y2="131.5" stroke="#b9163f" stroke-width="1.0"/>
<line x1="137" y1="125.10000000000001" x2="137" y2="131.5" stroke="#b9163f" stroke-width="1.0"/>
<line x1="141.9" y1="125.10000000000001" x2="141.9" y2="131.5" stroke="#b9163f" stroke-width="1.0"/>
<line x1="150" y1="125.10000000000001" x2="150" y2="131.5" stroke="#b9163f" stroke-width="1.0"/>
<line x1="152" y1="113.89999999999999" x2="152" y2="120.3" stroke="#b9163f" stroke-width="1.0"/>
<line x1="164.6" y1="113.89999999999999" x2="164.6" y2="120.3" stroke="#b9163f" stroke-width="1.0"/>
<rect x="153.8" y="113.89999999999999" width="3.1999999999999886" height="6.4" fill="#b9163f"/>
<polyline points="238,72.8 243.5,72.8 243.5,117.1 238,117.1" fill="none" stroke="#333" stroke-width="1"/>
<circle cx="248.4" cy="95.3" r="1.25" fill="#222"/>
<polyline points="312.3,145.2 315.7,141.1 317.1,135.3 317.6,133.4 319,132.4 320,128.6 321.5,126.6 494.6,126.6" fill="none" stroke="#29567f" stroke-width="1.15" stroke-linejoin="round"/>
<line x1="321.5" y1="123.39999999999999" x2="321.5" y2="129.79999999999998" stroke="#29567f" stroke-width="1.0"/>
<line x1="324.3" y1="123.39999999999999" x2="324.3" y2="129.79999999999998" stroke="#29567f" stroke-width="1.0"/>
<line x1="327.5" y1="123.39999999999999" x2="327.5" y2="129.79999999999998" stroke="#29567f" stroke-width="1.0"/>
<line x1="341.5" y1="123.39999999999999" x2="341.5" y2="129.79999999999998" stroke="#29567f" stroke-width="1.0"/>
<line x1="347.4" y1="123.39999999999999" x2="347.4" y2="129.79999999999998" stroke="#29567f" stroke-width="1.0"/>
<line x1="351.0" y1="123.39999999999999" x2="351.0" y2="129.79999999999998" stroke="#29567f" stroke-width="1.0"/>
<line x1="417.8" y1="123.39999999999999" x2="417.8" y2="129.79999999999998" stroke="#29567f" stroke-width="1.0"/>
<line x1="453.5" y1="123.39999999999999" x2="453.5" y2="129.79999999999998" stroke="#29567f" stroke-width="1.0"/>
<line x1="458.8" y1="123.39999999999999" x2="458.8" y2="129.79999999999998" stroke="#29567f" stroke-width="1.0"/>
<line x1="494.0" y1="123.39999999999999" x2="494.0" y2="129.79999999999998" stroke="#29567f" stroke-width="1.0"/>
<rect x="335.9" y="123.39999999999999" width="2.0" height="6.4" fill="#29567f"/>
<polyline points="312.3,145.2 317.6,145.2 326.3,139.3 494.6,139.3" fill="none" stroke="#b9163f" stroke-width="1.15" stroke-linejoin="round"/>
<line x1="318.1" y1="141.8" x2="318.1" y2="148.2" stroke="#b9163f" stroke-width="1.0"/>
<line x1="326.3" y1="136.10000000000002" x2="326.3" y2="142.5" stroke="#b9163f" stroke-width="1.0"/>
<line x1="332.0" y1="136.10000000000002" x2="332.0" y2="142.5" stroke="#b9163f" stroke-width="1.0"/>
<line x1="352.2" y1="136.10000000000002" x2="352.2" y2="142.5" stroke="#b9163f" stroke-width="1.0"/>
<line x1="390.0" y1="136.10000000000002" x2="390.0" y2="142.5" stroke="#b9163f" stroke-width="1.0"/>
<line x1="421.2" y1="136.10000000000002" x2="421.2" y2="142.5" stroke="#b9163f" stroke-width="1.0"/>
<line x1="440.0" y1="136.10000000000002" x2="440.0" y2="142.5" stroke="#b9163f" stroke-width="1.0"/>
<line x1="452.6" y1="136.10000000000002" x2="452.6" y2="142.5" stroke="#b9163f" stroke-width="1.0"/>
<line x1="476.8" y1="136.10000000000002" x2="476.8" y2="142.5" stroke="#b9163f" stroke-width="1.0"/>
<line x1="493.5" y1="136.10000000000002" x2="493.5" y2="142.5" stroke="#b9163f" stroke-width="1.0"/>
<rect x="347.6" y="136.10000000000002" width="2.0" height="6.4" fill="#b9163f"/>
<polyline points="495.8,126.6 501.5,126.6 501.5,139.3 495.8,139.3" fill="none" stroke="#333" stroke-width="1"/>
<text x="509.2" y="135.6" font-size="8" text-anchor="middle" font-weight="normal" fill="#2e2e2e" stroke="#2e2e2e" stroke-width="0.1" textLength="8.2" lengthAdjust="spacingAndGlyphs" >ns</text>
<polyline points="53.2,352.3 63,352.3 64.7,349.5 66.3,341.4 70.3,337.3 77.4,337.3 79,331 80.5,328.7 82.5,326.2 88.4,326.2 91.7,321.1 92.7,320 116.2,314.5 235,314.5" fill="none" stroke="#29567f" stroke-width="1.15" stroke-linejoin="round"/>
<polyline points="53.2,352.3 235,352.3" fill="none" stroke="#b9163f" stroke-width="1.15" stroke-linejoin="round"/>
<line x1="58.6" y1="349.1" x2="58.6" y2="355.5" stroke="#b9163f" stroke-width="1.0"/>
<line x1="72.4" y1="349.1" x2="72.4" y2="355.5" stroke="#b9163f" stroke-width="1.0"/>
<line x1="77.6" y1="349.1" x2="77.6" y2="355.5" stroke="#b9163f" stroke-width="1.0"/>
<line x1="93.7" y1="349.1" x2="93.7" y2="355.5" stroke="#b9163f" stroke-width="1.0"/>
<line x1="130.0" y1="349.1" x2="130.0" y2="355.5" stroke="#b9163f" stroke-width="1.0"/>
<line x1="162.3" y1="349.1" x2="162.3" y2="355.5" stroke="#b9163f" stroke-width="1.0"/>
<line x1="180.8" y1="349.1" x2="180.8" y2="355.5" stroke="#b9163f" stroke-width="1.0"/>
<line x1="194.0" y1="349.1" x2="194.0" y2="355.5" stroke="#b9163f" stroke-width="1.0"/>
<line x1="217.7" y1="349.1" x2="217.7" y2="355.5" stroke="#b9163f" stroke-width="1.0"/>
<line x1="234.0" y1="349.1" x2="234.0" y2="355.5" stroke="#b9163f" stroke-width="1.0"/>
<rect x="88.0" y="349.1" width="3.0" height="6.4" fill="#b9163f"/>
<line x1="62.2" y1="349.1" x2="62.2" y2="355.5" stroke="#29567f" stroke-width="1.0"/>
<line x1="66.3" y1="338.7" x2="66.3" y2="345.09999999999997" stroke="#29567f" stroke-width="1.0"/>
<line x1="70.3" y1="334.1" x2="70.3" y2="340.5" stroke="#29567f" stroke-width="1.0"/>
<line x1="77.4" y1="334.6" x2="77.4" y2="341.0" stroke="#29567f" stroke-width="1.0"/>
<line x1="82.5" y1="323.0" x2="82.5" y2="329.4" stroke="#29567f" stroke-width="1.0"/>
<line x1="88.4" y1="323.2" x2="88.4" y2="329.59999999999997" stroke="#29567f" stroke-width="1.0"/>
<line x1="91.7" y1="317.90000000000003" x2="91.7" y2="324.3" stroke="#29567f" stroke-width="1.0"/>
<line x1="116.2" y1="311.3" x2="116.2" y2="317.7" stroke="#29567f" stroke-width="1.0"/>
<line x1="158.3" y1="311.3" x2="158.3" y2="317.7" stroke="#29567f" stroke-width="1.0"/>
<line x1="194.0" y1="311.3" x2="194.0" y2="317.7" stroke="#29567f" stroke-width="1.0"/>
<line x1="199.2" y1="311.3" x2="199.2" y2="317.7" stroke="#29567f" stroke-width="1.0"/>
<line x1="234.0" y1="311.3" x2="234.0" y2="317.7" stroke="#29567f" stroke-width="1.0"/>
<polyline points="236,314.5 242.5,314.5 242.5,352.3 236,352.3" fill="none" stroke="#333" stroke-width="1"/>
<circle cx="247.7" cy="333.7" r="1.25" fill="#222"/>
<polyline points="312.3,352.1 316.1,349 317.1,342.4 318.7,336.8 320.7,333.3 321.7,331.2 323.2,329.2 324.8,324.0 494.6,324.0" fill="none" stroke="#29567f" stroke-width="1.15" stroke-linejoin="round"/>
<line x1="318.7" y1="333.6" x2="318.7" y2="340.0" stroke="#29567f" stroke-width="1.0"/>
<line x1="321.7" y1="328.0" x2="321.7" y2="334.4" stroke="#29567f" stroke-width="1.0"/>
<line x1="323.2" y1="326.0" x2="323.2" y2="332.4" stroke="#29567f" stroke-width="1.0"/>
<line x1="324.8" y1="320.8" x2="324.8" y2="327.2" stroke="#29567f" stroke-width="1.0"/>
<line x1="327.3" y1="320.8" x2="327.3" y2="327.2" stroke="#29567f" stroke-width="1.0"/>
<line x1="329.9" y1="320.8" x2="329.9" y2="327.2" stroke="#29567f" stroke-width="1.0"/>
<line x1="347.6" y1="320.8" x2="347.6" y2="327.2" stroke="#29567f" stroke-width="1.0"/>
<line x1="376.0" y1="320.8" x2="376.0" y2="327.2" stroke="#29567f" stroke-width="1.0"/>
<line x1="417.5" y1="320.8" x2="417.5" y2="327.2" stroke="#29567f" stroke-width="1.0"/>
<line x1="453.75" y1="320.8" x2="453.75" y2="327.2" stroke="#29567f" stroke-width="1.0"/>
<line x1="493.75" y1="320.8" x2="493.75" y2="327.2" stroke="#29567f" stroke-width="1.0"/>
<rect x="336.0" y="320.8" width="2.0" height="6.4" fill="#29567f"/>
<polyline points="312.3,352.1 317.7,352.1 325.3,346.5 326.3,340.8 494.6,340.8" fill="none" stroke="#b9163f" stroke-width="1.15" stroke-linejoin="round"/>
<line x1="318.2" y1="348.8" x2="318.2" y2="355.2" stroke="#b9163f" stroke-width="1.0"/>
<line x1="325.3" y1="343.3" x2="325.3" y2="349.7" stroke="#b9163f" stroke-width="1.0"/>
<line x1="326.3" y1="337.6" x2="326.3" y2="344.0" stroke="#b9163f" stroke-width="1.0"/>
<line x1="331.9" y1="337.6" x2="331.9" y2="344.0" stroke="#b9163f" stroke-width="1.0"/>
<line x1="352.2" y1="337.6" x2="352.2" y2="344.0" stroke="#b9163f" stroke-width="1.0"/>
<line x1="389.4" y1="337.6" x2="389.4" y2="344.0" stroke="#b9163f" stroke-width="1.0"/>
<line x1="421.25" y1="337.6" x2="421.25" y2="344.0" stroke="#b9163f" stroke-width="1.0"/>
<line x1="440.0" y1="337.6" x2="440.0" y2="344.0" stroke="#b9163f" stroke-width="1.0"/>
<line x1="452.0" y1="337.6" x2="452.0" y2="344.0" stroke="#b9163f" stroke-width="1.0"/>
<line x1="493.75" y1="337.6" x2="493.75" y2="344.0" stroke="#b9163f" stroke-width="1.0"/>
<rect x="347.5" y="337.6" width="2.0" height="6.4" fill="#b9163f"/>
<polyline points="495,324.0 501.5,324.0 501.5,340.8 495,340.8" fill="none" stroke="#333" stroke-width="1"/>
<text x="509.3" y="335.1" font-size="8" text-anchor="middle" font-weight="normal" fill="#2e2e2e" stroke="#2e2e2e" stroke-width="0.1" textLength="8.2" lengthAdjust="spacingAndGlyphs" >ns</text>
<rect x="0.5" y="0.5" width="519" height="412" fill="none" stroke="#3c3c3c" stroke-width="1"/>
<line x1="518.5" y1="0" x2="518.5" y2="413" stroke="#d8d8d8" stroke-width="1"/>
<line x1="0" y1="411.5" x2="520" y2="411.5" stroke="#d8d8d8" stroke-width="1"/>
<line x1="1.5" y1="0" x2="1.5" y2="413" stroke="#d0d0d0" stroke-width="1"/>
</svg>
</body></html>
